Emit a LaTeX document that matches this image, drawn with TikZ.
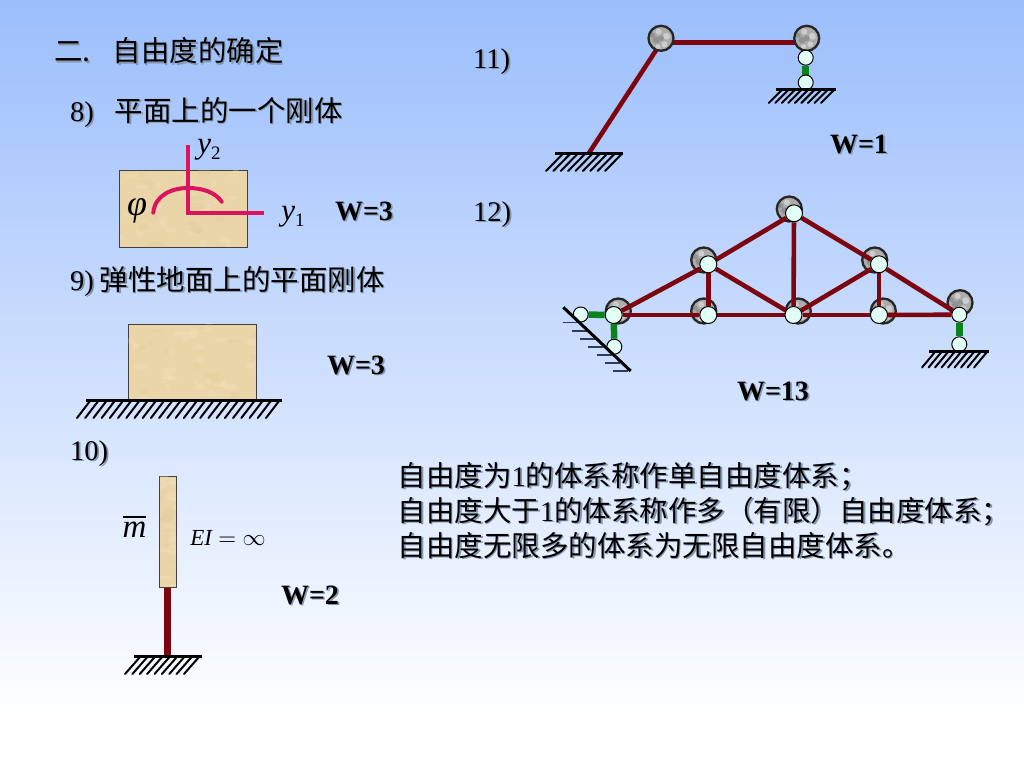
\documentclass[tikz,border=0pt]{standalone}
\usepackage{fontspec}
\setmainfont{Liberation Serif}
\newfontfamily\cjk{Noto Sans CJK SC}
\usetikzlibrary{backgrounds}
\pgfdeclarelayer{graylayer}
\pgfdeclarelayer{barlayer}
\pgfsetlayers{background,graylayer,barlayer,main}
\definecolor{skytop}{RGB}{155,190,252}
\definecolor{txtshadow}{RGB}{135,150,175}
\definecolor{rock}{RGB}{233,213,168}
\definecolor{rocklight}{RGB}{245,232,200}
\definecolor{rockdark}{RGB}{218,195,145}
\definecolor{stone}{RGB}{172,172,172}
\definecolor{stonelight}{RGB}{205,205,205}
\definecolor{stonedark}{RGB}{145,145,145}
\definecolor{barred}{RGB}{125,5,15}
\definecolor{linkgreen}{RGB}{10,130,30}
\definecolor{mint}{RGB}{226,255,245}
\definecolor{axispink}{RGB}{220,20,95}
\definecolor{slopehatch}{RGB}{50,60,85}
\newcommand{\sh}[1]{\leavevmode\rlap{\raisebox{-1.6pt}{\kern1.6pt\textcolor{txtshadow}{#1}}}#1}
\newcommand{\hatchset}[6]{\foreach \k in {0,...,#6}{\draw[hatchline] ({#1+\k*(#2-#1)/#6},#3) -- ++(#4,#5);}}
\newcommand{\rocktexture}[5]{%
  \begin{scope}
    \clip (#1,#2) rectangle (#3,#4);
    \foreach \k in {1,...,#5}{
      \pgfmathsetmacro\rx{#1+rnd*(#3-#1)}
      \pgfmathsetmacro\ry{#2+rnd*(#4-#2)}
      \pgfmathsetmacro\ra{2+rnd*6}
      \pgfmathsetmacro\rb{1.5+rnd*3}
      \pgfmathtruncatemacro\rc{mod(\k,3)}
      \ifnum\rc=0
        \fill[rockdark,opacity=.18] (\rx,\ry) ellipse [x radius=\ra pt,y radius=\rb pt];
      \else
        \fill[rocklight,opacity=.25] (\rx,\ry) ellipse [x radius=\ra pt,y radius=\rb pt];
      \fi
    }
  \end{scope}}
\pgfmathsetseed{11}
\tikzset{
  label cn/.style={anchor=west,inner sep=0pt,font=\fontsize{28.5}{35}\selectfont\cjk,text=black},
  label w/.style={inner sep=0pt,font=\fontsize{28}{32}\selectfont\bfseries,text=black},
  math y/.style={inner sep=0pt,font=\fontsize{31}{34}\selectfont\itshape,text=black},
  ground/.style={line width=3pt,black},
  hatchline/.style={line width=2pt,black,line cap=round},
  bar/.style={line width=4.6pt,barred},
  link/.style={line width=6.5pt,linkgreen},
  stoneball/.style={circle,draw=black!85,line width=2.3pt,fill=stone,minimum size=25pt,inner sep=0pt,
    path picture={
      \foreach \a/\r/\s/\c in {20/6/3.5/stonelight,110/7/3/stonelight,200/5/3.5/stonedark,300/7/3/stonelight,0/0/3/stonedark,160/9/2.5/stonedark,250/9/2.5/stonelight}
        {\fill[\c] (path picture bounding box.center) ++(\a:\r pt) circle (\s pt);}
    }},
  pin/.style={circle,draw=black,line width=1pt,fill=mint,inner sep=0pt},
  pin big/.style={pin,minimum size=17pt},
  pin small/.style={pin,minimum size=15pt},
  rockbox/.style={rectangle,draw=black!75,line width=1pt,fill=rock,inner sep=0pt},
  axis line/.style={line width=4pt,axispink},
}
\begin{document}
\begin{tikzpicture}[x=1pt,y=-1pt]
\useasboundingbox (0,0) rectangle (1024,768);
\begin{pgfonlayer}{background}
  \shade[top color=skytop,bottom color=white] (0,0) rectangle (1024,720);
  \fill[white] (0,720) rectangle (1024,768);
\end{pgfonlayer}

% titles
\node[label cn] (title) at (54,51.5) {\sh{\makebox[58.5pt][l]{二.}自由度的确定}};
\node[label cn] (t8) at (70,113) {\sh{\makebox[44.5pt][l]{\rmfamily 8)}平面上的一个刚体}};
\node[label cn] (t9) at (70,282) {\sh{\makebox[29.5pt][l]{\rmfamily 9)}弹性地面上的平面刚体}};
\node[label cn] (t10) at (70,454) {\sh{\rmfamily 10)}};
\node[label cn] (t11) at (473,62) {\sh{\rmfamily 11)}};
\node[label cn] (t12) at (473,215) {\sh{\rmfamily 12)}};

% W labels
\node[label w] (w8) at (364,212) {\sh{W=3}};
\node[label w] (w9) at (356,366) {\sh{W=3}};
\node[label w] (w10) at (310,596) {\sh{W=2}};
\node[label w] (w11) at (859,145) {\sh{W=1}};
\node[label w] (w12) at (773,392) {\sh{W=13}};

% paragraph
\node[label cn,align=left] (para) at (397.5,511) {\sh{自由度为{\rmfamily 1}的体系称作单自由度体系；}\\
\sh{自由度大于{\rmfamily 1}的体系称作多（有限）自由度体系；}\\
\sh{自由度无限多的体系为无限自由度体系。}};

% 8) plane rigid body
\node[rockbox,minimum width=128pt,minimum height=77pt] (body8) at (183.3,208.7) {};
\rocktexture{120}{170.6}{246.8}{246.8}{45}
\coordinate (y2end) at (187.7,145);
\coordinate (origin) at (187.7,212.7);
\coordinate (y1end) at (264,212.7);
\draw[axis line,line join=miter] (y2end) -- (origin) -- (y1end);
\draw[axis line,line cap=round] (153.3,212.7) .. controls (155,195) and (172,188) .. (188,188) .. controls (202,188) and (215,192) .. (221.7,201.7);
\node[inner sep=0pt,font=\fontsize{36}{36}\selectfont\itshape,text=black] (phi) at (137,211) {φ};
\node[math y] (y2) at (209,150) {y\raisebox{-6pt}{\fontsize{19}{19}\selectfont\upshape 2}};
\node[math y] (y1) at (293,217) {y\raisebox{-6pt}{\fontsize{19}{19}\selectfont\upshape 1}};

% 9) on elastic ground
\node[rockbox,minimum width=128pt,minimum height=76pt] (body9) at (192,362) {};
\rocktexture{128.4}{324.6}{255.6}{399.4}{45}
\coordinate (g9a) at (86,400.3);
\coordinate (g9b) at (281.7,400.3);
\draw[ground] (g9a) -- (g9b);
\hatchset{90}{279}{401}{-13}{17}{23}

% 10) column
\node[rockbox,minimum width=17.5pt,minimum height=111pt] (body10) at (168,531.5) {};
\rocktexture{159.8}{476.6}{176.2}{586.4}{25}
\coordinate (g10a) at (134,656.7);
\coordinate (g10b) at (201.7,656.7);
\coordinate (g10c) at (167.7,656.7);
\begin{pgfonlayer}{barlayer}
  \draw[line width=7pt,barred] (body10.south) ++(-0.3,0) -- (g10c);
\end{pgfonlayer}
\draw[ground] (g10a) -- (g10b);
\hatchset{140}{199}{657}{-15}{17}{8}
\node[inner sep=0pt,scale=3.3,text=black] (mbar) at (134.5,526) {$\overline{\hbox{\itshape m}}$};
\node[inner sep=0pt,scale=2.3,text=black] (ei) at (228,538) {$\hbox{\itshape EI}=\infty$};

% 11) frame
\node[stoneball] (a11) at (661,38.3) {};
\node[stoneball] (b11) at (806.7,38.3) {};
\coordinate (a11p) at (661,42.7);
\coordinate (b11p) at (806.7,42.7);
\coordinate (base11) at (589,153);
\node[pin small,minimum size=15pt] (p11a) at (805.7,57.7) {};
\node[pin small,minimum size=15pt] (p11b) at (805.7,82.5) {};
\begin{pgfonlayer}{background}
  \draw[bar] (a11p) -- (b11p);
  \draw[bar] (a11p) -- (base11);
\end{pgfonlayer}
\begin{pgfonlayer}{barlayer}
  \draw[link] (p11a) -- (p11b);
\end{pgfonlayer}
\coordinate (g11a) at (555,153);
\coordinate (g11b) at (623,153);
\draw[ground] (g11a) -- (g11b);
\hatchset{562.7}{621.7}{154}{-16.7}{17}{8}
\coordinate (g11c) at (775.7,89);
\coordinate (g11d) at (836,89);
\draw[ground] (g11c) -- (g11d);
\hatchset{781.7}{834}{90}{-13}{13}{8}

% 12) truss: stone balls
\begin{pgfonlayer}{graylayer}
  \node[stoneball] (s1) at (618.3,311) {};
  \node[stoneball] (s2) at (703.7,311) {};
  \node[stoneball] (s3) at (798.3,311) {};
  \node[stoneball] (s4) at (883.3,311) {};
  \node[stoneball] (s5) at (960,302.7) {};
  \node[stoneball] (s6) at (703.7,260) {};
  \node[stoneball] (s7) at (789.3,209) {};
  \node[stoneball] (s8) at (874.7,260) {};
\end{pgfonlayer}
% 12) truss: pins
\node[pin big] (n1) at (613.7,315) {};
\node[pin big] (n2) at (708.3,315) {};
\node[pin big] (n3) at (793.5,315) {};
\node[pin big] (n4) at (879,315) {};
\node[pin small] (n5) at (959.3,314.7) {};
\node[pin big] (n6) at (708.3,264.3) {};
\node[pin big] (n7) at (794,213.3) {};
\node[pin big] (n8) at (879,264.3) {};
\node[pin small] (sup1) at (580.7,314.5) {};
\node[pin small] (sup2) at (614.3,346.7) {};
\node[pin small] (sup3) at (959.3,344.3) {};
\begin{pgfonlayer}{barlayer}
  \draw[bar] (n1) -- (n2);
  \draw[bar] (n2) -- (n3);
  \draw[bar] (n3) -- (n4);
  \draw[bar] (n4) -- (n5);
  \draw[bar] (n1) -- (n6);
  \draw[bar] (n6) -- (n7);
  \draw[bar] (n7) -- (n8);
  \draw[bar] (n8) -- (n5);
  \draw[bar] (n6) -- (n2);
  \draw[bar] (n6) -- (n3);
  \draw[bar] (n7) -- (n3);
  \draw[bar] (n3) -- (n8);
  \draw[bar] (n8) -- (n4);
  \draw[link] (sup1) -- (n1);
  \draw[link] (sup2) -- (n1);
  \draw[link] (sup3) -- (n5);
\end{pgfonlayer}
% 12) supports
\coordinate (g12a) at (929.3,351.5);
\coordinate (g12b) at (989.3,351.5);
\draw[ground] (g12a) -- (g12b);
\hatchset{935}{987}{352}{-13}{15.5}{8}
\coordinate (slopea) at (563.3,307.3);
\coordinate (slopeb) at (630.7,371);
\foreach \yy/\xx in {322.7/563.3,331/571.7,339/580,347/588.3,355/596.7,363/605,371/613.3}
  {\draw[line width=1.3pt,slopehatch] (\xx,\yy) -- ++(15,0);}
\draw[line width=3pt,black] (slopea) -- (slopeb);
\end{tikzpicture}
\end{document}
